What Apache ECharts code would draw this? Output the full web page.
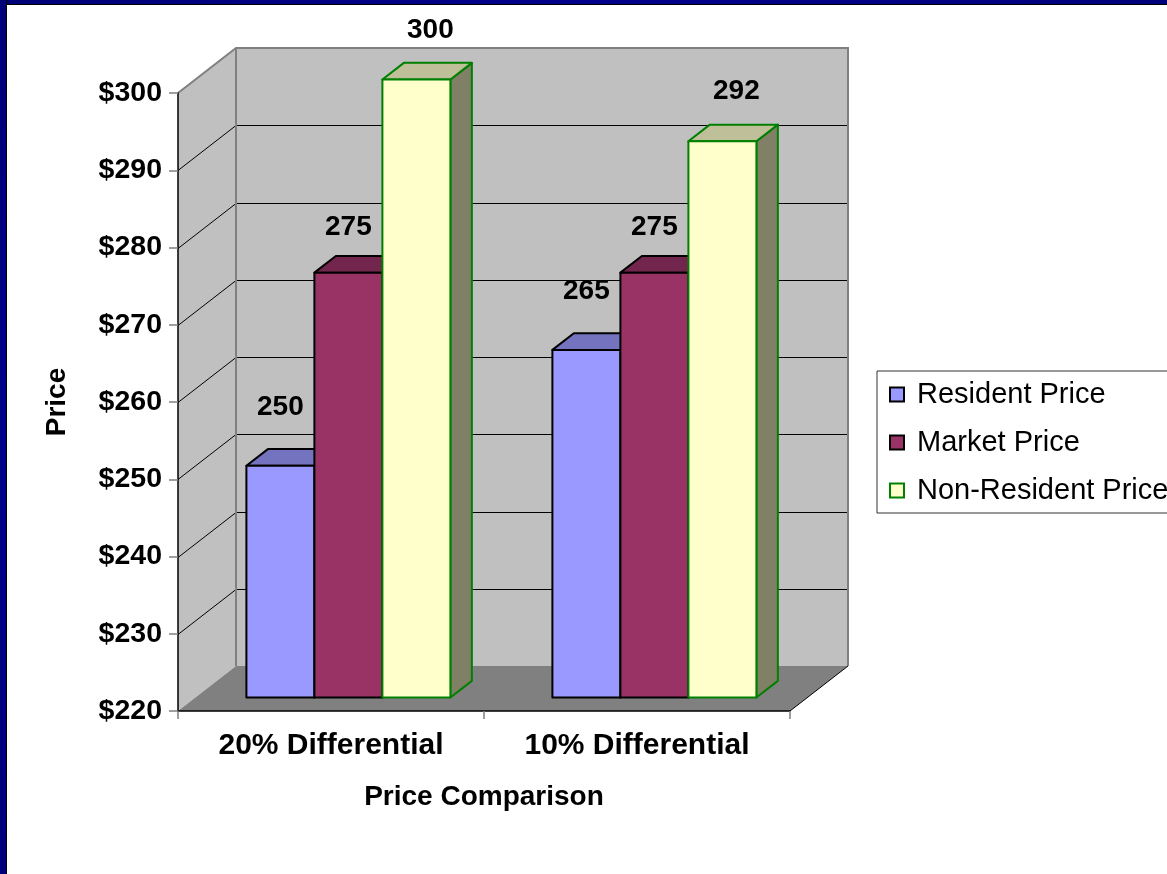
<!DOCTYPE html>
<html>
<head>
<meta charset="utf-8">
<title>Price Comparison</title>
<script src="https://cdn.jsdelivr.net/npm/echarts@6/dist/echarts.min.js"></script>
<style>
  html, body { margin: 0; padding: 0; background: #fff; }
  #wrap { position: relative; width: 1167px; height: 874px; overflow: hidden; background: #fff; }
  #chart { position: absolute; left: 0; top: 0; width: 1167px; height: 874px; }
  .frame-top { position: absolute; left: 0; top: 0; width: 1167px; height: 4px;
    background: linear-gradient(90deg, #000078, #00008c 50%, #00007c); border-bottom: 1px solid #000; }
  .frame-left { position: absolute; left: 0; top: 0; width: 6px; height: 874px;
    background: linear-gradient(180deg, #000078, #00008a 50%, #00007c); border-right: 1px solid #000; }
</style>
</head>
<body>
<div id="wrap">
  <div id="chart"></div>
  <div class="frame-top"></div>
  <div class="frame-left"></div>
</div>
<script>
// ---- data ----
const CATEGORIES = ['20% Differential', '10% Differential'];
const RESIDENT_PRICE = [250, 265];
const MARKET_PRICE = [275, 275];
const NON_RESIDENT_PRICE = [300, 292];
const Y_TICKS = [220, 230, 240, 250, 260, 270, 280, 290, 300];
const SERIES_NAMES = ['Resident Price', 'Market Price', 'Non-Resident Price'];

// ---- look ----
const FONT = '"Liberation Sans", Arial, sans-serif';
const Y_MIN = Y_TICKS[0];
const Y_MAX = Y_TICKS[Y_TICKS.length - 1];
const DEPTH = { dx: 58, dy: -45 };      // oblique depth of the chart box
const BAR_FRONT = 0.3;                   // where the bar fronts sit inside the box
const BAR_DEPTH = 0.37;                  // how deep each column is
const BARS_PER_CATEGORY = 4.5;           // 3 columns + 150% gap

const STYLES = [
  { color: '#9999ff', top: '#7373bf', side: '#4d4d80', edge: '#000000', labelDx: 0,  labelDy: 42 },
  { color: '#993366', top: '#73264d', side: '#4d1a33', edge: '#000000', labelDx: 0,  labelDy: 29 },
  { color: '#ffffcc', top: '#bfbf99', side: '#808066', edge: '#008000', labelDx: 14, labelDy: 33 }
];

// Back wall, side wall, floor and gridlines of the 3-D box
function renderBox(params, api) {
  const cs = params.coordSys;
  const x0 = cs.x, x1 = cs.x + cs.width, y0 = cs.y, y1 = cs.y + cs.height;
  const dx = DEPTH.dx, dy = DEPTH.dy;
  const children = [
    { type: 'polygon', shape: { points: [[x0, y0], [x0 + dx, y0 + dy], [x0 + dx, y1 + dy], [x0, y1]] },
      style: { fill: '#c0c0c0' } },
    { type: 'rect', shape: { x: x0 + dx, y: y0 + dy, width: x1 - x0, height: y1 - y0 },
      style: { fill: '#c0c0c0' } },
    { type: 'polygon', shape: { points: [[x0, y1], [x1, y1], [x1 + dx, y1 + dy], [x0 + dx, y1 + dy]] },
      style: { fill: '#808080' } }
  ];
  Y_TICKS.forEach(function (v) {
    if (v === Y_MIN || v === Y_MAX) return;
    const y = Math.round(api.coord([0, v])[1]) + 0.5;
    children.push({ type: 'polyline',
      shape: { points: [[x0, y], [x0 + dx, y + dy], [x1 + dx, y + dy]] },
      style: { stroke: '#000', lineWidth: 1, fill: null } });
  });
  children.push({ type: 'polyline',
    shape: { points: [[x0, y0], [x0 + dx, y0 + dy], [x1 + dx, y0 + dy], [x1 + dx, y1 + dy]] },
    style: { stroke: '#808080', lineWidth: 2, fill: null } });
  children.push({ type: 'line', shape: { x1: x0 + dx, y1: y0 + dy, x2: x0 + dx, y2: y1 + dy },
    style: { stroke: '#808080', lineWidth: 2 } });
  children.push({ type: 'line', shape: { x1: x1, y1: y1, x2: x1 + dx, y2: y1 + dy },
    style: { stroke: '#000', lineWidth: 1 } });
  return { type: 'group', children: children };
}

// One 3-D column: front, top and right faces plus its value label
function columnRenderer(k) {
  const st = STYLES[k];
  return function (params, api) {
    const ci = api.value(0), v = api.value(1);
    const top = api.coord([ci, v]);
    const base = api.coord([ci, Y_MIN]);
    const bw = api.size([1, 0])[0] / BARS_PER_CATEGORY;
    const ox = BAR_FRONT * DEPTH.dx, oy = BAR_FRONT * DEPTH.dy;
    const bx = BAR_DEPTH * DEPTH.dx, by = BAR_DEPTH * DEPTH.dy;
    const xl = top[0] - 1.5 * bw + k * bw + ox;
    const xr = xl + bw;
    const yt = top[1] + oy, yb = base[1] + oy;
    const edge = { stroke: st.edge, lineWidth: 2, lineJoin: 'round' };
    return {
      type: 'group',
      children: [
        { type: 'polygon', shape: { points: [[xr, yt], [xr + bx, yt + by], [xr + bx, yb + by], [xr, yb]] },
          style: Object.assign({ fill: st.side }, edge) },
        { type: 'polygon', shape: { points: [[xl, yt], [xr, yt], [xr + bx, yt + by], [xl + bx, yt + by]] },
          style: Object.assign({ fill: st.top }, edge) },
        { type: 'rect', shape: { x: xl, y: yt, width: bw, height: yb - yt },
          style: Object.assign({ fill: st.color }, edge) },
        { type: 'text', z2: 100,
          x: (xl + xr) / 2 + st.labelDx, y: yt + by - st.labelDy,
          style: { text: String(v), fill: '#000', font: 'bold 28px ' + FONT,
                   align: 'center', verticalAlign: 'middle' } }
      ]
    };
  };
}

function toPairs(values) {
  return values.map(function (v, i) { return [i, v]; });
}

const SERIES_VALUES = [RESIDENT_PRICE, MARKET_PRICE, NON_RESIDENT_PRICE];

const chart = echarts.init(document.getElementById('chart'), null, { renderer: 'canvas' });

const option = {
  animation: false,
  backgroundColor: '#ffffff',
  textStyle: { fontFamily: FONT },
  grid: { left: 178, top: 93, width: 612, height: 618 },
  legend: {
    orient: 'vertical',
    left: 877, top: 371,
    padding: [9, 60, 8, 12],
    itemGap: 19,
    itemWidth: 14, itemHeight: 14,
    borderColor: '#333', borderWidth: 1,
    selectedMode: false,
    textStyle: { fontFamily: FONT, fontSize: 29, color: '#000', padding: [0, 0, 0, 8] },
    data: SERIES_NAMES.map(function (n, i) {
      return { name: n, icon: 'rect',
        itemStyle: { color: STYLES[i].color, borderColor: STYLES[i].edge, borderWidth: 2 } };
    })
  },
  xAxis: {
    type: 'category',
    data: CATEGORIES,
    z: 5,
    name: 'Price Comparison',
    nameLocation: 'middle',
    nameGap: 72,
    nameTextStyle: { fontFamily: FONT, fontSize: 28, fontWeight: 'bold', color: '#000' },
    axisLine: { lineStyle: { color: '#000', width: 1.5 } },
    axisTick: { show: true, length: 8, lineStyle: { color: '#808080', width: 1.5 } },
    axisLabel: { margin: 20, fontFamily: FONT, fontSize: 30, fontWeight: 'bold', color: '#000' },
    splitLine: { show: false }
  },
  yAxis: {
    type: 'value',
    min: Y_MIN, max: Y_MAX, interval: Y_TICKS[1] - Y_TICKS[0],
    z: 5,
    name: 'Price',
    nameLocation: 'middle',
    nameRotate: 90,
    nameGap: 107,
    nameTextStyle: { fontFamily: FONT, fontSize: 28, fontWeight: 'bold', color: '#000' },
    axisLine: { show: true, lineStyle: { color: '#000', width: 1.5 } },
    axisTick: { show: true, length: 9, lineStyle: { color: '#808080', width: 1.5 } },
    axisLabel: { margin: 16, fontFamily: FONT, fontSize: 28.5, fontWeight: 'bold', color: '#000',
      formatter: function (v) { return '$' + v; } },
    splitLine: { show: false }
  },
  series: [
    { type: 'custom', name: 'box', z: 1, silent: true,
      renderItem: renderBox, data: [[0, Y_MIN]] }
  ].concat(SERIES_VALUES.map(function (vals, k) {
    return {
      type: 'custom', name: SERIES_NAMES[k], z: 2,
      renderItem: columnRenderer(k),
      itemStyle: { color: STYLES[k].color, borderColor: STYLES[k].edge, borderWidth: 2 },
      encode: { x: 0, y: 1 },
      data: toPairs(vals)
    };
  }))
};

chart.setOption(option);
</script>
</body>
</html>
